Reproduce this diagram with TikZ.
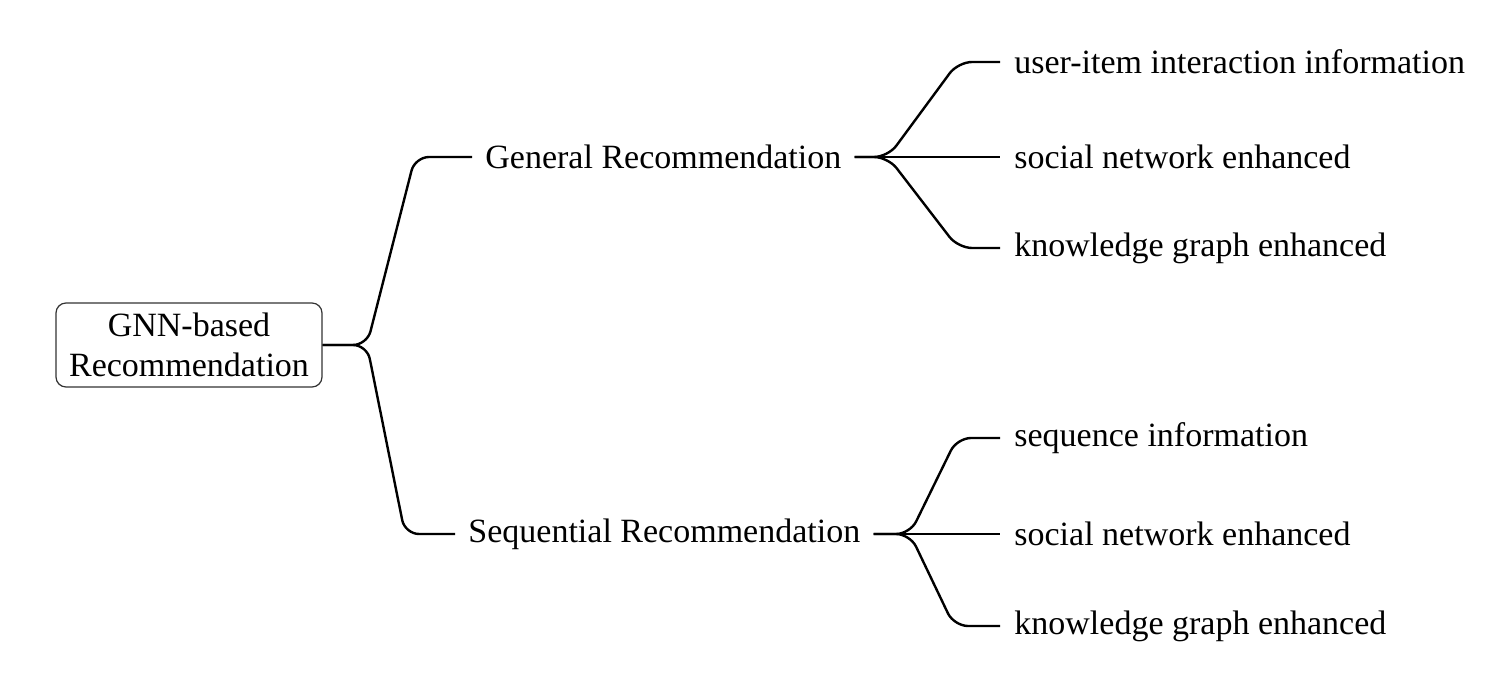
\documentclass[tikz,border=0pt]{standalone}
\usepackage{fontspec}
\setmainfont{Liberation Serif}
\usetikzlibrary{positioning,calc}

\begin{document}
\begin{tikzpicture}[
    x=0.5pt, y=-0.5pt,
    root/.style={rectangle, draw=black!80, line width=0.6pt, rounded corners=5pt, minimum width=133pt, minimum height=42pt, align=center, font=\fontsize{17}{20}\selectfont},
    mid/.style={inner xsep=6.5pt, inner ysep=2pt, font=\fontsize{17}{20}\selectfont},
    leaf/.style={anchor=west, inner xsep=7pt, inner ysep=2pt, font=\fontsize{17}{20}\selectfont},
    branch/.style={line width=1.2pt, rounded corners=7pt}
]
    \useasboundingbox (0,0) rectangle (1508,688);

    % Root
    \node[root] (gnn) at (189, 345) {GNN-based\\Recommendation};

    % Second level
    \node[mid, anchor=west] (gen) at (472, 157) {General Recommendation};
    \node[mid, anchor=west] (seq) at (455, 534) {Sequential Recommendation};

    % Leaves
    \node[leaf] (ui) at (1000, 62) {user-item interaction information};
    \node[leaf] (gsn) at (1000, 157) {social network enhanced};
    \node[leaf] (gkg) at (1000, 248) {knowledge graph enhanced};

    \node[leaf] (si) at (1000, 438) {sequence information};
    \node[leaf] (ssn) at (1000, 534) {social network enhanced};
    \node[leaf] (skg) at (1000, 626) {knowledge graph enhanced};

    % Junctions
    \coordinate (j1) at (367, 345);
    \coordinate (j2) at (888, 157);
    \coordinate (j3) at (910, 534);

    % Connectors
    \draw[branch] (gnn.east) -- (j1) -- (415, 157) -- (gen.west);
    \draw[branch] (gnn.east) -- (j1) -- (405, 534) -- (seq.west);

    \draw[branch] (gen.east) -- (j2) -- (958, 62) -- (ui.west);
    \draw[branch] (gen.east) -- (gsn.west);
    \draw[branch] (gen.east) -- (j2) -- (958, 248) -- (gkg.west);

    \draw[branch] (seq.east) -- (j3) -- (957, 438) -- (si.west);
    \draw[branch] (seq.east) -- (ssn.west);
    \draw[branch] (seq.east) -- (j3) -- (954, 626) -- (skg.west);
\end{tikzpicture}
\end{document}
